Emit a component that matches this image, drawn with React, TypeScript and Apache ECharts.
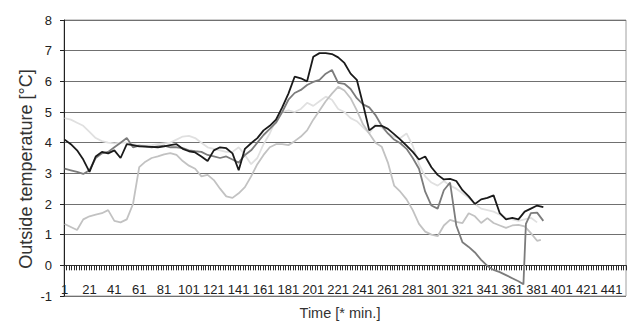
import React, { useEffect, useRef } from "react";
import * as echarts from "echarts";

// time categories 1..452 (minutes)
const categories: string[] = Array.from({ length: 452 }, (_, i) => String(i + 1));

// [category index, temperature °C]
const seriesBlack: [number, number][] = [
  [0,4.1],[5,3.95],[10,3.75],[15,3.45],[20,3.05],[25,3.55],[30,3.7],[35,3.65],[40,3.75],[45,3.5],[50,3.95],[55,3.92],[60,3.88],[65,3.87],[70,3.86],[75,3.85],[80,3.88],[85,3.92],[90,3.95],[95,3.8],[100,3.72],[105,3.68],[110,3.55],[115,3.4],[120,3.75],[125,3.85],[130,3.82],[135,3.65],[140,3.1],[145,3.8],[150,3.98],[155,4.15],[160,4.4],[165,4.55],[170,4.75],[175,5.15],[180,5.6],[185,6.15],[190,6.1],[195,6.0],[200,6.8],[205,6.92],[210,6.92],[215,6.89],[220,6.78],[225,6.6],[230,6.25],[235,6.05],[240,5.25],[245,4.4],[250,4.55],[255,4.55],[260,4.45],[265,4.28],[270,4.1],[275,3.9],[280,3.7],[285,3.45],[290,3.55],[295,3.2],[300,2.95],[305,2.8],[310,2.82],[315,2.75],[320,2.45],[325,2.25],[330,2.0],[335,2.15],[340,2.2],[345,2.28],[350,1.7],[355,1.5],[360,1.55],[365,1.5],[370,1.75],[375,1.85],[380,1.95],[385,1.9]
];

const seriesDarkGray: [number, number][] = [
  [0,3.15],[5,3.1],[10,3.05],[15,2.98],[20,3.1],[25,3.5],[30,3.65],[35,3.7],[40,3.85],[45,4.0],[50,4.15],[55,3.85],[60,3.9],[65,3.88],[70,3.85],[75,3.88],[80,3.9],[85,3.85],[90,3.85],[95,3.82],[100,3.75],[105,3.72],[110,3.7],[115,3.6],[120,3.55],[125,3.5],[130,3.55],[135,3.45],[140,3.35],[145,3.6],[150,3.75],[155,4.0],[160,4.25],[165,4.45],[170,4.65],[175,5.0],[180,5.4],[185,5.62],[190,5.72],[195,5.88],[200,5.98],[205,6.05],[210,6.25],[215,6.37],[220,5.95],[225,5.92],[230,5.75],[235,5.45],[240,5.25],[245,5.15],[250,4.9],[255,4.55],[260,4.3],[265,4.1],[270,3.98],[275,3.8],[280,3.5],[285,3.15],[290,2.4],[295,1.95],[300,1.85],[305,2.45],[310,2.7],[315,1.3],[320,0.75],[325,0.6],[330,0.42],[335,0.18],[340,-0.02],[345,-0.15],[350,-0.22],[355,-0.32],[360,-0.42],[365,-0.52],[369,-0.62],[371,1.35],[375,1.7],[380,1.72],[385,1.45]
];

const seriesLightGray: [number, number][] = [
  [0,1.35],[5,1.25],[10,1.15],[15,1.5],[20,1.6],[25,1.65],[30,1.7],[35,1.8],[40,1.45],[45,1.4],[50,1.5],[55,2.0],[60,3.2],[65,3.38],[70,3.5],[75,3.55],[80,3.62],[85,3.66],[90,3.6],[95,3.4],[100,3.25],[105,3.15],[110,2.9],[115,2.95],[120,2.78],[125,2.5],[130,2.25],[135,2.2],[140,2.35],[145,2.55],[150,2.9],[155,3.3],[160,3.6],[165,3.85],[170,3.95],[175,3.95],[180,3.92],[185,4.05],[190,4.2],[195,4.4],[200,4.75],[205,5.05],[210,5.35],[215,5.6],[220,5.82],[225,5.7],[230,5.45],[235,5.05],[240,4.6],[245,4.3],[250,4.0],[255,3.87],[260,3.35],[265,2.6],[270,2.4],[275,2.15],[280,1.8],[285,1.35],[290,1.1],[295,1.0],[300,0.95],[305,1.3],[310,1.48],[315,1.42],[320,1.38],[325,1.7],[330,1.6],[335,1.38],[340,1.54],[345,1.38],[350,1.3],[355,1.22],[360,1.3],[365,1.32],[370,1.27],[375,1.05],[380,0.8],[383,0.83]
];

const seriesPale: [number, number][] = [
  [0,4.8],[5,4.75],[10,4.65],[15,4.55],[20,4.35],[25,4.15],[30,4.05],[35,4.0],[40,3.98],[45,4.0],[50,4.0],[55,3.95],[60,3.92],[65,3.9],[70,3.92],[75,3.95],[80,3.98],[85,4.0],[90,4.1],[95,4.2],[100,4.22],[105,4.15],[110,4.0],[115,3.85],[120,3.8],[125,3.75],[130,3.7],[135,3.7],[140,3.85],[145,3.6],[150,3.3],[155,3.5],[160,3.95],[165,4.3],[170,4.75],[175,5.0],[180,5.05],[185,5.0],[190,5.1],[195,5.3],[200,5.2],[205,5.35],[210,5.5],[215,5.4],[220,5.1],[225,5.0],[230,4.8],[235,4.7],[240,4.5],[245,4.3],[250,4.6],[255,4.5],[260,4.3],[265,4.2],[270,4.15],[275,4.3],[280,3.9],[285,3.3],[290,2.9],[295,2.7],[300,2.6],[305,2.75],[310,2.6],[315,2.5],[320,2.35],[325,2.2],[330,2.0],[335,1.85],[340,1.8],[345,1.75],[350,1.65],[355,1.55],[360,1.5],[365,1.45],[370,1.5],[375,1.55],[380,1.4]
];

const yTitle = "Outside temperature [°C]";
const xTitle = "Time [* min.]";

const FONT = "Arial, 'Liberation Sans', Helvetica, sans-serif";

export default function App() {
  const ref = useRef<HTMLDivElement>(null);
  useEffect(() => {
    if (!ref.current) return;
    const chart = echarts.init(ref.current, undefined, { renderer: "svg" });
    const mk = (name: string, data: [number, number][], color: string, width: number) => ({
      name,
      type: "line",
      data,
      showSymbol: false,
      symbol: "none",
      lineStyle: { color, width },
      z: 3,
    });
    chart.setOption({
      animation: false,
      backgroundColor: "#ffffff",
      grid: { left: 64, right: 4, top: 20, bottom: 25, show: true, borderColor: "#a0a0a0", borderWidth: 1 },
      xAxis: {
        type: "category",
        data: categories,
        boundaryGap: true,
        axisLine: { show: true, onZero: true, lineStyle: { color: "#333", width: 1 } },
        axisTick: { show: true, interval: 1, length: 5, lineStyle: { color: "#2a2a2a", width: 1 } },
        axisLabel: { interval: 19, margin: -13, fontSize: 13, color: "#222", fontFamily: FONT },
        splitLine: { show: false },
      },
      yAxis: {
        type: "value",
        min: -1,
        max: 8,
        interval: 1,
        axisLine: { show: true, lineStyle: { color: "#222", width: 1 } },
        axisTick: { show: true, length: 4, lineStyle: { color: "#222" } },
        axisLabel: { margin: 12, fontSize: 13, color: "#222", fontFamily: FONT },
        splitLine: { show: true, lineStyle: { color: "#707070", width: 1 } },
      },
      graphic: [
        {
          type: "text",
          x: 26,
          y: 169,
          rotation: Math.PI / 2,
          style: { text: yTitle, fontSize: 18, fontFamily: FONT, fill: "#333", textAlign: "center", textVerticalAlign: "middle" },
        },
        {
          type: "text",
          x: 340,
          y: 313,
          style: { text: xTitle, fontSize: 14.5, fontFamily: FONT, fill: "#333", textAlign: "center", textVerticalAlign: "middle" },
        },
      ],
      series: [
        mk("pale", seriesPale, "#e0e0e0", 1.8),
        mk("light", seriesLightGray, "#c2c2c2", 1.8),
        mk("dark", seriesDarkGray, "#7c7c7c", 1.8),
        mk("black", seriesBlack, "#1a1a1a", 1.8),
      ],
    });
    return () => chart.dispose();
  }, []);
  return <div ref={ref} style={{ position: "fixed", left: 0, top: 0, width: 630, height: 321 }} />;
}
